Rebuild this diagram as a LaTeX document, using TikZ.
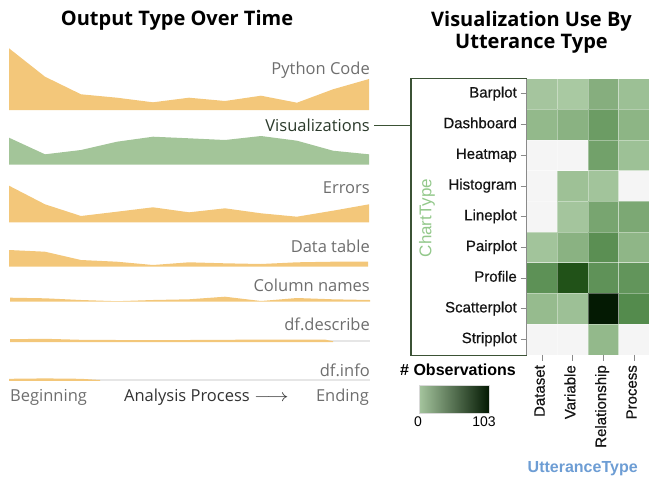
\documentclass[tikz,border=0pt]{standalone}
\usepackage{fontspec}
\setmainfont{Liberation Sans}
\newfontfamily\leftfont{Open Sans}
\newfontfamily\rowfont[FakeBold=0.6]{Liberation Sans}
\usetikzlibrary{arrows.meta}
\definecolor{orangefill}{HTML}{F3C77A}
\definecolor{greenfill}{HTML}{A3C599}
\definecolor{labgray}{HTML}{6E6E6E}
\definecolor{labdark}{HTML}{2B3A2B}
\definecolor{boxgreen}{HTML}{3B5235}
\definecolor{axisgray}{HTML}{8A8A8A}
\definecolor{basegray}{HTML}{E6E6E6}
\definecolor{charttitle}{HTML}{93C88B}
\definecolor{utterblue}{HTML}{6D9DD4}
\definecolor{emptycell}{HTML}{F5F5F5}
\definecolor{gradlow}{HTML}{A5C59E}
\definecolor{gradhigh}{HTML}{041A03}
\tikzset{
  lefttitle/.style={font=\leftfont\bfseries\fontsize{20}{23}\selectfont, text=black, inner sep=0pt},
  righttitle/.style={font=\leftfont\bfseries\fontsize{20}{23}\selectfont, text=black, inner sep=0pt, align=center},
  leftlab/.style={font=\leftfont\fontsize{16.5}{19}\selectfont, text=labgray, inner sep=0pt},
  rowlab/.style={font=\rowfont\fontsize{15}{18}\selectfont, text=black!92, inner sep=0pt},
  collab/.style={font=\rowfont\fontsize{15}{18}\selectfont, text=black!92, inner sep=0pt, rotate=90},
  tickline/.style={draw=axisgray, line width=0.8pt},
  boxline/.style={draw=boxgreen, line width=1.5pt},
  cellstyle/.style={draw=white, draw opacity=0.35, line width=0.5pt}
}
\begin{document}
\begin{tikzpicture}[x=1pt,y=-1pt]
\useasboundingbox (0,0) rectangle (650,477);
% ---------- left panel ----------
\node[lefttitle, anchor=base] (ltitle) at (177,25) {Output Type Over Time};
% Python Code
\fill[orangefill] (9,110) -- plot coordinates {(9,48.3) (45,76.7) (81,94.3) (117,97.7) (153,102.3) (189,97.7) (225,101) (261,95.7) (297,102.7) (333,89.3) (369,79)} -- (369,110) -- cycle;
\node[leftlab, anchor=base east] (lpython) at (370,74) {Python Code};
% Visualizations
\fill[greenfill] (9,164.5) -- plot coordinates {(9,137.7) (45,154.3) (81,150) (117,141.7) (153,136.7) (189,138.3) (225,140) (261,136) (297,140.7) (333,150.7) (369,154.3)} -- (369,164.5) -- cycle;
\node[leftlab, text=labdark, anchor=base east] (lvis) at (370,131.7) {Visualizations};
% Errors
\fill[orangefill] (9,222.3) -- plot coordinates {(9,185.7) (45,204.3) (81,216) (117,211.7) (153,207.3) (189,212.3) (225,208.3) (261,213.3) (297,216.7) (333,210.7) (369,204.3)} -- (369,222.3) -- cycle;
\node[leftlab, anchor=base east] (lerrors) at (370,193.3) {Errors};
% Data table
\fill[orangefill] (9,266.7) -- plot coordinates {(9,250) (45,251.7) (81,260) (117,261.7) (153,265) (189,262.3) (225,263.3) (261,264) (297,262.3) (333,261.7) (368,261.7)} -- (368,266.7) -- cycle;
\node[leftlab, anchor=base east] (ltable) at (370,252.7) {Data table};
% Column names
\fill[orangefill] (10,301.5) -- plot coordinates {(10,297.7) (45,298.3) (81,300) (117,301.2) (153,300) (189,299.3) (225,296.7) (261,301) (297,298) (333,299.3) (370,300)} -- (370,301.5) -- cycle;
\node[leftlab, anchor=base east] (lcolumns) at (370,291.7) {Column names};
% df.describe
\draw[basegray, line width=1.5pt] (10,341.2) -- (370,341.2);
\fill[orangefill] (10,342) -- plot coordinates {(10,339.2) (45,338.8) (81,339.8) (117,340) (153,340.2) (189,340) (225,339.8) (261,339.6) (297,339.5) (325,339.6) (333,341.2)} -- (333,342) -- cycle;
\node[leftlab, anchor=base east] (ldescribe) at (370,330) {df.describe};
% df.info
\draw[basegray, line width=1.5pt] (9,380) -- (370,380);
\fill[orangefill] (9,380.8) -- plot coordinates {(9,378.8) (45,378.4) (81,378.8) (100,380)} -- (100,380.8) -- cycle;
\node[leftlab, anchor=base east] (linfo) at (370,376) {df.info};
% axis labels
\node[leftlab, anchor=base west] (lbegin) at (10,401.5) {Beginning};
\node[leftlab, anchor=base east] (lend) at (369,401.5) {Ending};
\node[leftlab, text=black!80, anchor=base] (lproc) at (206.5,401) {Analysis Process \(\scalebox{1.25}[1]{$\longrightarrow$}\)};
% ---------- right panel ----------
\node[righttitle, anchor=base] (rtitle1) at (531.5,26) {Visualization Use By};
\node[righttitle, anchor=base] (rtitle2) at (531.5,48.5) {Utterance Type};
% heatmap cells
\foreach \r/\c/\col in {
  1/1/A5C59E, 1/2/A9C9A2, 1/3/86AE7E, 1/4/9CC095,
  2/1/93B98B, 2/2/8AB282, 2/3/6C9C64, 2/4/8DB585,
  3/1/F5F5F5, 3/2/F5F5F5, 3/3/72A16A, 3/4/9DC196,
  4/1/F5F5F5, 4/2/9EC196, 4/3/A2C49B, 4/4/F5F5F5,
  5/1/F5F5F5, 5/2/A4C59D, 5/3/78A570, 5/4/7CA874,
  6/1/A2C49B, 6/2/8AB282, 6/3/5B8F53, 6/4/8FB687,
  7/1/5D9156, 7/2/215218, 7/3/5F9258, 7/4/62955B,
  8/1/96BB8E, 8/2/9DC096, 8/3/041A03, 8/4/548B4D,
  9/1/F5F5F5, 9/2/F5F5F5, 9/3/93B98B, 9/4/F5F5F5}{
  \definecolor{cellc}{HTML}{\col}
  \fill[cellc, cellstyle] ({526.7+30.67*(\c-1)},{78.5+30.7*(\r-1)}) rectangle ({526.7+30.67*\c},{78.5+30.7*\r});
}
% left axis line & ticks
\draw[tickline] (526.7,78.5) -- (526.7,354.8);
\foreach \name [count=\i] in {Barplot,Dashboard,Heatmap,Histogram,Lineplot,Pairplot,Profile,Scatterplot,Stripplot}{
  \draw[tickline] (520.5,{78.5+30.7*(\i-0.5)}) -- (526.7,{78.5+30.7*(\i-0.5)});
  \node[rowlab, anchor=mid east] (row\i) at (517,{78.5+30.7*(\i-0.5)+1}) {\name};
}
% bottom ticks & labels
\foreach \name [count=\j] in {Dataset,Variable,Relationship,Process}{
  \draw[tickline] ({526.7+30.67*(\j-0.5)},354.8) -- ({526.7+30.67*(\j-0.5)},361);
  \node[collab, anchor=mid east] (col\j) at ({526.7+30.67*(\j-0.5)},365) {\name};
}
% box and connector
\coordinate (boxtl) at (411,78.5);
\coordinate (boxbl) at (411,355.5);
\coordinate (boxtr) at (526.7,78.5);
\coordinate (boxbr) at (526.7,355.5);
\coordinate (boxmid) at (411,125.5);
\draw[boxline] (boxtr) -- (boxtl) -- (boxbl) -- (boxbr);
\draw[boxline] (lvis.east |- boxmid) ++(4,0) -- (boxmid);
\node[font=\fontsize{17}{19}\selectfont, text=charttitle, rotate=90, inner sep=0pt] (ctitle) at (427,218) {ChartType};
% legend
\node[font=\bfseries\fontsize{16}{18}\selectfont, anchor=base east, inner sep=0pt] (legtitle) at (516,375) {\# Observations};
\shade[left color=gradlow, right color=gradhigh] (419,385) rectangle (489,413);
\draw[black!15, line width=0.5pt] (419,385) rectangle (489,413);
\node[font=\fontsize{14}{16}\selectfont, anchor=base, inner sep=0pt] (leg0) at (418,426) {0};
\node[font=\fontsize{14}{16}\selectfont, anchor=base, inner sep=0pt] (leg103) at (484,426) {103};
\node[font=\bfseries\fontsize{16}{18}\selectfont, text=utterblue, anchor=base, inner sep=0pt] (utitle) at (582.7,472.7) {UtteranceType};
\end{tikzpicture}
\end{document}
